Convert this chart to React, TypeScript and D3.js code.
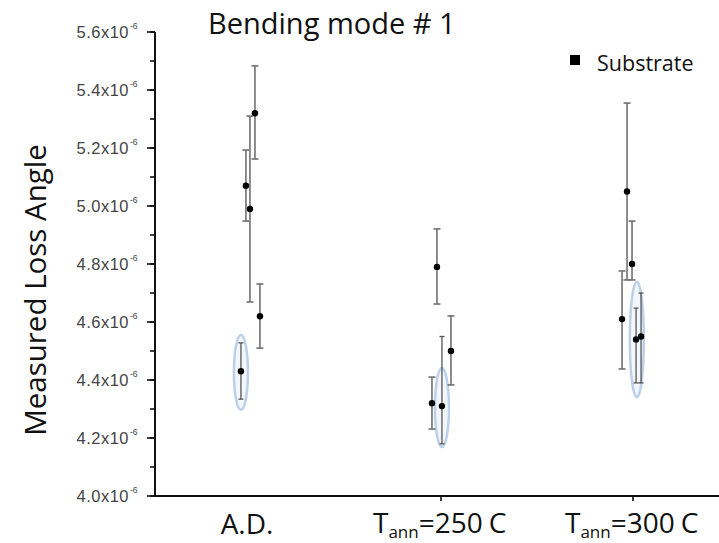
import React, { useEffect } from "react";
import * as d3 from "d3";

// ---- data ----
const categories = ["A.D.", "250", "300"];
// x position in category units (0 = A.D., 1 = 250 C, 2 = 300 C)
const pointX = [-0.042, -0.016, 0.005, 0.031, 0.057, 0.953, 0.979, 1.005, 1.052, 1.943, 1.969, 1.995, 2.016, 2.042];
const pointMean = [4.43, 5.07, 4.99, 5.32, 4.62, 4.32, 4.79, 4.31, 4.5, 4.61, 5.05, 4.8, 4.54, 4.55];
const pointLow = [4.334, 4.948, 4.669, 5.162, 4.51, 4.231, 4.662, 4.18, 4.383, 4.438, 4.745, 4.745, 4.39, 4.39];
const pointHigh = [4.528, 5.193, 5.31, 5.483, 4.731, 4.41, 4.921, 4.55, 4.621, 4.776, 5.355, 4.948, 4.648, 4.7];
const highlighted = [true, false, false, false, false, false, false, true, false, false, false, false, true, true];
// highlight ellipses: x centre (category units), value range
const ellipseX = [-0.042, 1.005, 2.02];
const ellipseLow = [4.297, 4.169, 4.341];
const ellipseHigh = [4.555, 4.441, 4.738];
const yTicks = [4.0, 4.2, 4.4, 4.6, 4.8, 5.0, 5.2, 5.4, 5.6];

const W = 719;
const H = 543;

export default function App() {
  useEffect(() => {
    document.body.style.margin = "0";
  }, []);

  const y = d3.scaleLinear().domain([4.0, 5.6]).range([496, 32]);
  const x = d3.scaleLinear().domain([-0.4896, 2.448]).range([155, 719]);
  const minor = d3.range(4.0, 5.6001, 0.1);
  const gray = "#707070";
  const font = "'Open Sans', sans-serif";
  const labelFont = "'Liberation Sans', Arial, sans-serif";

  return (
    <svg width={W} height={H} style={{ display: "block", background: "#fff" }}>
      {/* highlight ellipses */}
      {ellipseX.map((ex, i) => {
        const cy = (y(ellipseLow[i]) + y(ellipseHigh[i])) / 2;
        const ry = (y(ellipseLow[i]) - y(ellipseHigh[i])) / 2;
        return (
          <ellipse
            key={"e" + i}
            cx={x(ex)}
            cy={cy}
            rx={7}
            ry={ry}
            fill="rgba(215,228,245,0.3)"
            stroke="#bcd0ea"
            strokeWidth={2.5}
          />
        );
      })}

      {/* error bars */}
      {pointX.map((px, i) => {
        const cx = x(px);
        const cap = highlighted[i] ? 2.5 : 3.5;
        const col = highlighted[i] ? "#555" : gray;
        return (
          <g key={"b" + i} stroke={col} strokeWidth={highlighted[i] ? 1.3 : 1.6}>
            <line x1={cx} x2={cx} y1={y(pointLow[i])} y2={y(pointHigh[i])} />
            <line x1={cx - cap} x2={cx + cap} y1={y(pointLow[i])} y2={y(pointLow[i])} />
            <line x1={cx - cap} x2={cx + cap} y1={y(pointHigh[i])} y2={y(pointHigh[i])} />
          </g>
        );
      })}
      {pointX.map((px, i) => (
        <circle key={"p" + i} cx={x(px)} cy={y(pointMean[i])} r={3.2} fill="#000" />
      ))}

      {/* y axis */}
      <line x1={155} x2={155} y1={y(5.6)} y2={497} stroke="#111" strokeWidth={2} />
      {minor.map((t, i) => (
        <line key={"m" + i} x1={150} x2={155} y1={y(t)} y2={y(t)} stroke="#111" strokeWidth={1.6} />
      ))}
      {yTicks.map((t) => (
        <g key={"t" + t}>
          <line x1={147} x2={155} y1={y(t)} y2={y(t)} stroke="#111" strokeWidth={1.6} />
          <text
            x={129}
            y={y(t) + 6}
            textAnchor="end"
            fontFamily={labelFont}
            fontSize={16.5}
            letterSpacing={0.5}
            fill="#444"
          >
            {t.toFixed(1)}x10
          </text>
          <text x={130} y={y(t) - 3} fontFamily={labelFont} fontSize={8.5} fill="#444">
            -6
          </text>
        </g>
      ))}

      {/* x axis */}
      <line x1={154} x2={719} y1={496} y2={496} stroke="#111" strokeWidth={2} />
      {categories.map((c, i) =>
        i === 0 ? null : (
          <line key={"xt" + c} x1={x(i)} x2={x(i)} y1={496} y2={501} stroke="#111" strokeWidth={1.6} />
        )
      )}
      <text x={x(0) - 2} y={534} textAnchor="middle" fontFamily={font} fontSize={28} fill="#111">
        {categories[0]}
      </text>
      {categories.slice(1).map((c, j) => (
        <text key={"xl" + c} x={x(j + 1) - 68} y={533} fontFamily={font} fontSize={28} fill="#111">
          T
          <tspan fontSize={17} dy={5}>ann</tspan>
          <tspan dy={-5}>={c}</tspan>
          <tspan dx={6}>C</tspan>
        </text>
      ))}

      {/* titles */}
      <text x={208} y={34} fontFamily={font} fontSize={29} fill="#111">
        Bending mode # 1
      </text>
      <text
        transform={`translate(46, ${290}) rotate(-90)`}
        textAnchor="middle"
        fontFamily={font}
        fontSize={29.5}
        fill="#111"
      >
        Measured Loss Angle
      </text>

      {/* legend */}
      <rect x={570} y={55} width={10} height={10} fill="#000" />
      <text x={597} y={71} fontFamily={font} fontSize={21.5} fill="#111">
        Substrate
      </text>
    </svg>
  );
}
